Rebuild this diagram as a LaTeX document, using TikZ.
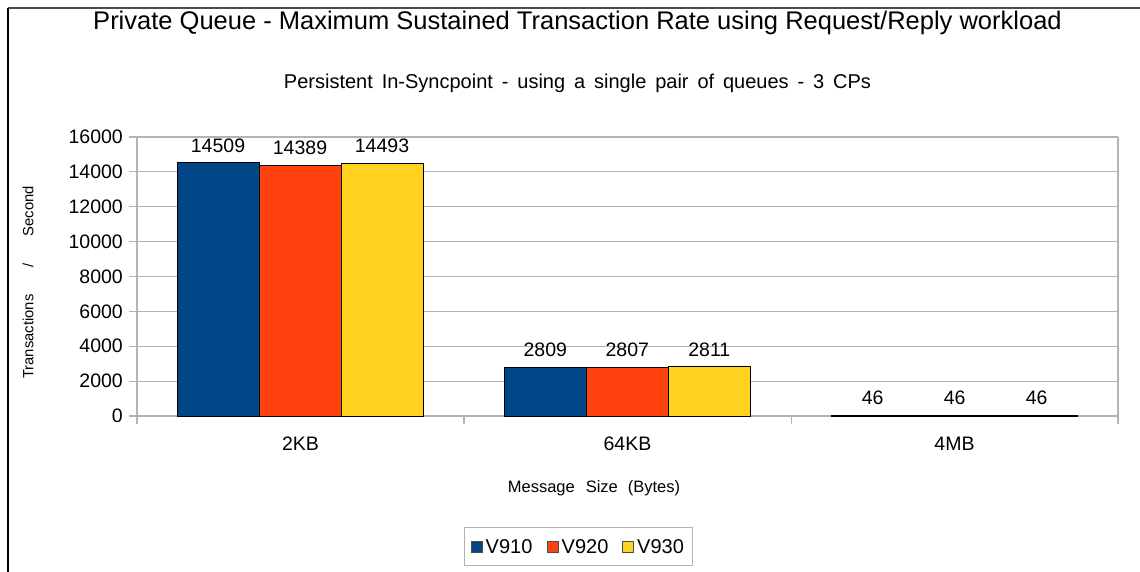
\documentclass[tikz,border=0pt]{standalone}
\usepackage{fontspec}
\setmainfont{Liberation Sans}
\definecolor{sBlue}{HTML}{004586}
\definecolor{sOrange}{HTML}{FF420E}
\definecolor{sYellow}{HTML}{FFD320}
\definecolor{gridgray}{HTML}{B3B3B3}
\newcommand\setfs[1]{\fontsize{#1}{#1}\selectfont}
\newcommand\widesp{\spaceskip=8.9pt plus 1pt minus 1pt\relax}
\begin{document}
\begin{tikzpicture}[x=1pt,y=-1pt,
  grid/.style={draw=gridgray,line width=1.2pt},
  barbox/.style={draw=black,line width=1pt},
  ticklab/.style={inner sep=0pt,anchor=east,font=\setfs{19.5}},
  vallab/.style={inner sep=0pt,anchor=south,yshift=10pt,font=\setfs{19.5}},
  catlab/.style={inner sep=0pt,anchor=base,font=\setfs{19.5}},
  legkey/.style={draw=black!70,line width=0.6pt,minimum size=11pt,inner sep=0pt},
  legtext/.style={inner sep=0pt,anchor=west,font=\setfs{20}}]
\useasboundingbox (0,0) rectangle (1140,572);
\fill[white] (0,0) rectangle (1140,572);
% page frame (top and left edges)
\draw[black!70,line width=1.5pt] (8,8) -- (1140,8);
\draw[black,line width=2pt] (8,8) -- (8,572);

% titles
\node[inner sep=0pt,anchor=base,font=\setfs{25.5}] (title) at (577.5,30)
  {Private Queue - Maximum Sustained Transaction Rate using Request/Reply workload};
\node[inner sep=0pt,anchor=base,font=\setfs{20}] (subtitle) at (577.5,89)
  {\widesp Persistent In-Syncpoint - using a single pair of queues - 3 CPs};
\node[inner sep=0pt,rotate=90,font=\setfs{14.8}] (ytitle) at (28,282.5)
  {Transactions\hspace{27pt}/\hspace{27pt}Second};
\node[inner sep=0pt,anchor=base,font=\setfs{16.5}] (xtitle) at (594,492)
  {Message\hspace{11pt}Size\hspace{10pt}(Bytes)};

% value axis: y measured in transactions per second
\begin{scope}[shift={(0,416)},y=0.0174375pt]
  \foreach \k [evaluate=\k as \v using int(\k*2000)] in {0,...,8} {
    \draw[grid] (137,\v) -- (1118,\v);
    \draw[grid] (129,\v) -- (137,\v);
    \node[ticklab] (yt\k) at (123,\v) {\v};
  }
  \draw[grid] (137,16000) -- (137,-430);
  \draw[grid] (1118,16000) -- (1118,-430);
  \foreach \tx in {463.9,791.1} \draw[grid] (\tx,0) -- (\tx,-430);

  \foreach \gx/\a/\b/\c/\n in {177/14509/14389/14493/a,
                               504.3/2809/2807/2811/b,
                               831.6/46/46/46/c} {
    \draw[barbox,fill=sBlue]   (\gx,0)     rectangle ++(82,\a);
    \draw[barbox,fill=sOrange] (\gx+82,0)  rectangle ++(82,\b);
    \draw[barbox,fill=sYellow] (\gx+164,0) rectangle ++(82,\c);
    \node[vallab] (val\n1) at (\gx+41,\a)  {\a};
    \node[vallab] (val\n2) at (\gx+123,\b) {\b};
    \node[vallab] (val\n3) at (\gx+205,\c) {\c};
  }
\end{scope}

% category labels
\node[catlab] (cat1) at (300.5,450) {2KB};
\node[catlab] (cat2) at (627.5,450) {64KB};
\node[catlab] (cat3) at (954.5,450) {4MB};

% legend
\draw[draw=gridgray,line width=1pt] (464,527) rectangle (692,565);
\node[legkey,fill=sBlue]   (k1) at (476.5,546.5) {};
\node[legtext] (l1) at (485.5,546.5) {V910};
\node[legkey,fill=sOrange] (k2) at (552.5,546.5) {};
\node[legtext] (l2) at (561.5,546.5) {V920};
\node[legkey,fill=sYellow] (k3) at (628,546.5) {};
\node[legtext] (l3) at (637,546.5) {V930};
\end{tikzpicture}
\end{document}
